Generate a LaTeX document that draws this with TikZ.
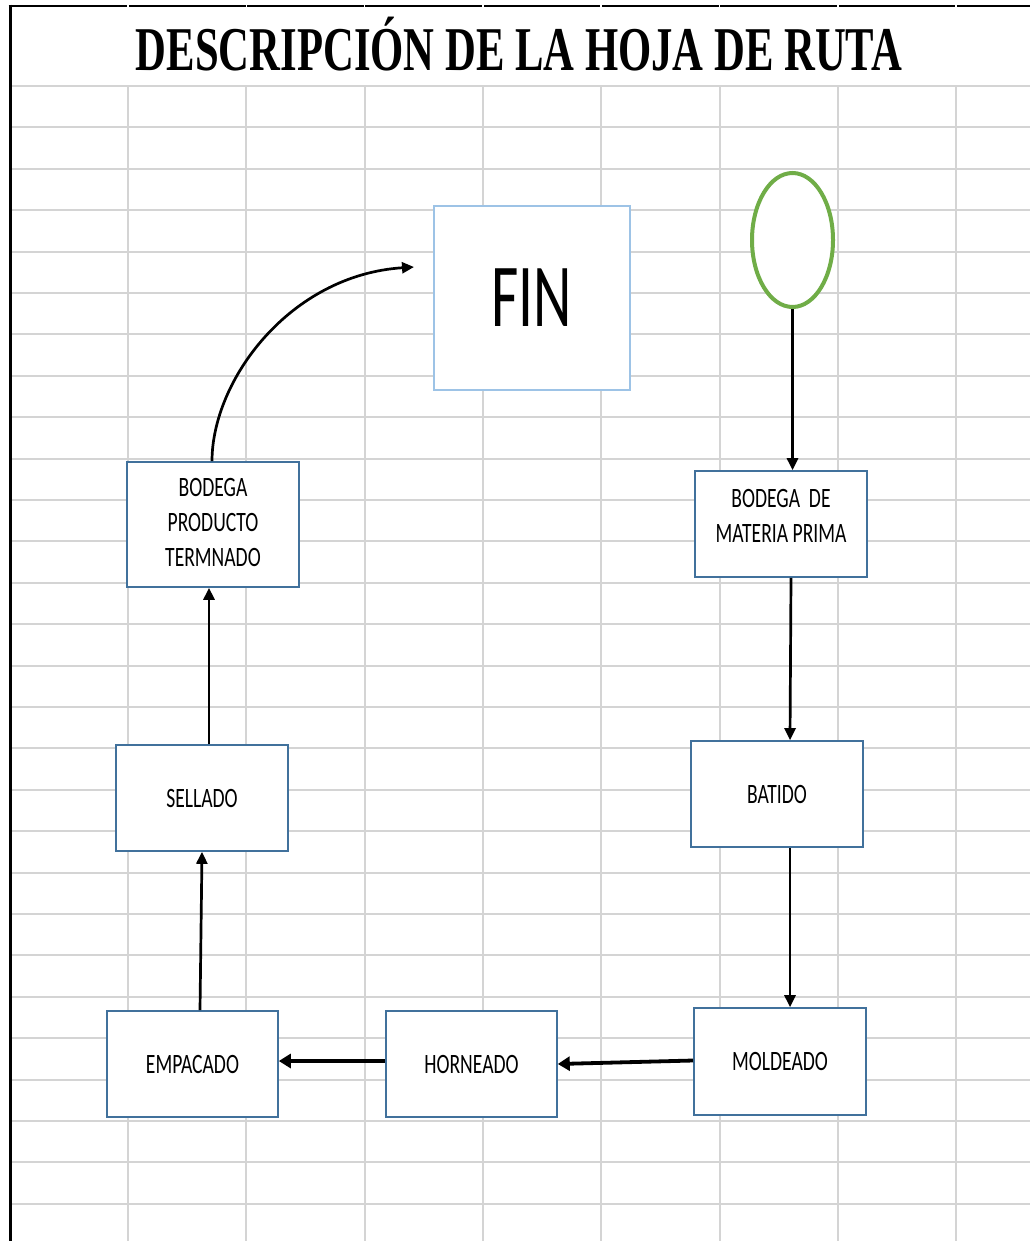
\documentclass[tikz,border=0pt]{standalone}
\usepackage{fontspec}
\usepackage{graphicx}
\setmainfont{Liberation Serif}
\newfontfamily\carlito{Carlito}
\newfontfamily\titlefont{Liberation Serif Bold}
\usetikzlibrary{arrows.meta,calc,shapes.geometric}
\definecolor{gridgray}{HTML}{D4D4D4}
\definecolor{boxblue}{HTML}{41719C}
\definecolor{finblue}{HTML}{9DC3E6}
\definecolor{startgreen}{HTML}{70AD47}
\tikzset{
  procbox/.style={draw=boxblue, line width=1.6pt, fill=white, inner sep=0pt,
    font=\fontsize{19.6}{24.5}\selectfont\carlito},
  arr/.style={line width=2.7pt, -{Triangle[length=12pt,width=11pt]}},
  harr/.style={line width=3.8pt, -{Triangle[length=12pt,width=14pt]}},
  gridline/.style={draw=gridgray, line width=2pt},
}
% box labels: tall, narrow lettering
\newcommand{\sqz}[1]{\scalebox{1}[1.43]{\begin{tabular}{@{}c@{}}#1\end{tabular}}}
\begin{document}
\begin{tikzpicture}[x=1pt,y=-1pt]
\useasboundingbox[fill=white] (0,0) rectangle (1030,1241);
% spreadsheet grid
\foreach \k in {0,...,27}
  \draw[gridline] (10,{86+41.4*\k}) -- (1030,{86+41.4*\k});
\foreach \k in {0,...,7}
  \draw[gridline] ({128+118.3*\k},86) -- ({128+118.3*\k},1241);
% sheet border
\draw[line width=2.6pt] (8.7,6) -- (1030,6);
\foreach \k in {0,...,7}
  \draw[white, line width=1.6pt] ({128+118.3*\k},3) -- ({128+118.3*\k},9);
\draw[line width=3pt] (10,4.7) -- (10,1241);
% title
\node[anchor=base, inner sep=0pt] (title) at (519,71)
  {\fontsize{42.5}{42.5}\selectfont\titlefont\resizebox{766pt}{!}{\scalebox{1}[1.46]{DESCRIPCIÓN DE LA HOJA DE RUTA}}};
% process boxes
\node[draw=finblue, line width=1.4pt, fill=white, minimum width=196pt, minimum height=184pt, inner sep=0pt,
  font=\fontsize{59.4}{60}\selectfont\carlito] (fin) at (532,298) {\scalebox{1}[1.515]{FIN}};
\node[draw=startgreen, line width=4pt, fill=white, ellipse, minimum width=81pt, minimum height=134pt] (start) at (792.5,240) {};
\node[procbox, minimum width=172pt, minimum height=106pt] (bdmp) at (781,524)
  {\raisebox{6pt}[\height][\depth]{\sqz{BODEGA\ \ DE\\MATERIA PRIMA}}};
\node[procbox, minimum width=172pt, minimum height=106pt] (batido) at (777,794) {\raisebox{-2pt}[\height][\depth]{\sqz{BATIDO}}};
\node[procbox, minimum width=172pt, minimum height=107pt] (moldeado) at (780,1061.5) {\raisebox{-2pt}[\height][\depth]{\sqz{MOLDEADO}}};
\node[procbox, minimum width=171pt, minimum height=106pt] (horneado) at (471.5,1064) {\raisebox{-2pt}[\height][\depth]{\sqz{HORNEADO}}};
\node[procbox, minimum width=171pt, minimum height=106pt] (empacado) at (192.5,1064) {\raisebox{-2pt}[\height][\depth]{\sqz{EMPACADO}}};
\node[procbox, minimum width=172pt, minimum height=106pt] (sellado) at (202,798) {\raisebox{-2pt}[\height][\depth]{\sqz{SELLADO}}};
\node[procbox, minimum width=172pt, minimum height=125pt] (bpt) at (213,524.5) {\sqz{BODEGA\\PRODUCTO\\TERMNADO}};
\coordinate (finend) at (414,267);
% connectors
\draw[arr] (start.south) -- (start.south |- bdmp.north);
\draw[arr] ([xshift=10pt]bdmp.south) -- ([xshift=13pt]batido.north);
\draw[arr] ([xshift=13pt]batido.south) -- ([xshift=10pt]moldeado.north);
\draw[harr] ([yshift=1pt]moldeado.west) -- (horneado.east);
\draw[harr] ([yshift=3pt]horneado.west) -- ([yshift=3pt]empacado.east);
\draw[arr] ([xshift=7.5pt]empacado.north) -- (sellado.south);
\draw[arr] ([xshift=7pt]sellado.north) -- ([xshift=-4pt]bpt.south);
\draw[arr] ([xshift=-1pt]bpt.north) .. controls (212,380) and (290,275) .. (finend);
\end{tikzpicture}
\end{document}
